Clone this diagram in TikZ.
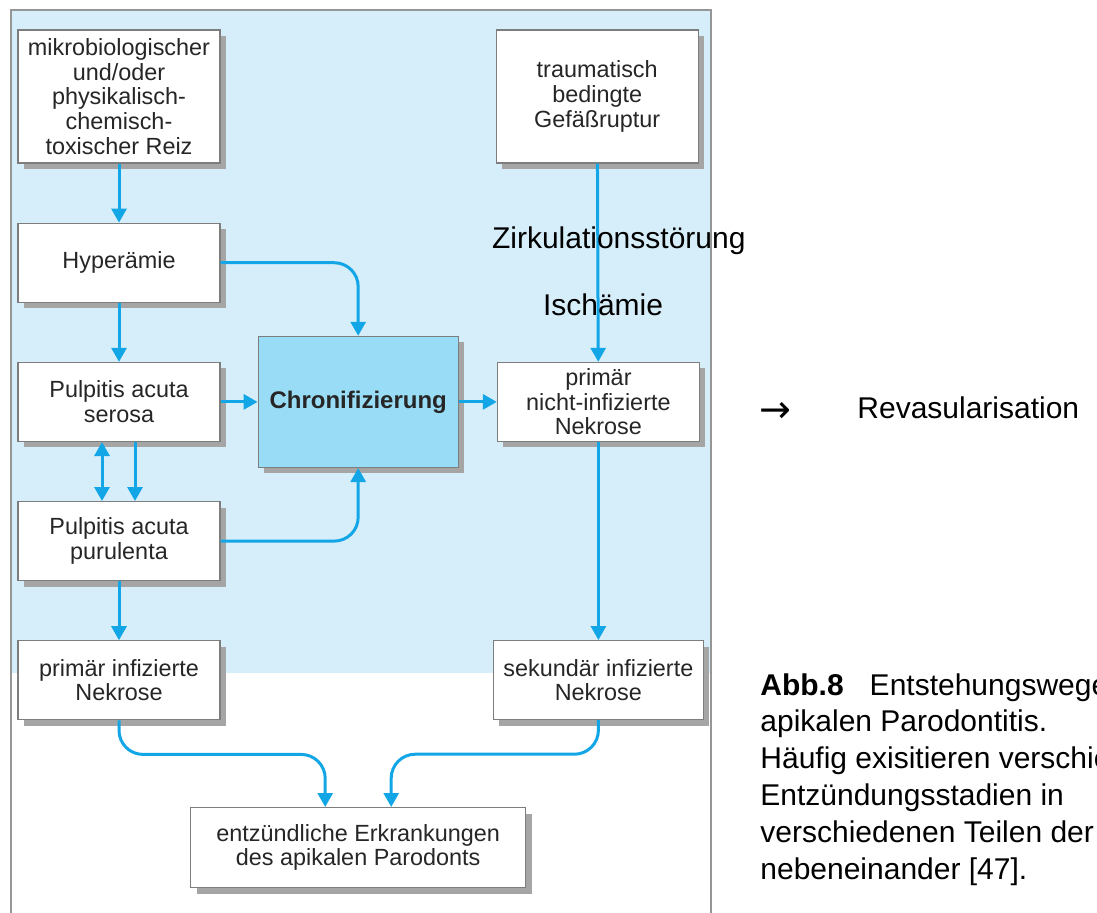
\documentclass[tikz,border=0pt]{standalone}
\usepackage{fontspec}
\setmainfont{Liberation Sans}
\newfontfamily\arrowfont{DejaVu Sans}
\usepackage{tikz}
\usetikzlibrary{positioning,arrows.meta,shadows}

\definecolor{bgblue}{RGB}{214,238,250}
\definecolor{chronblue}{RGB}{152,220,245}
\definecolor{arrowblue}{RGB}{18,166,230}
\definecolor{boxgray}{RGB}{125,125,125}
\definecolor{shadowgray}{RGB}{165,165,165}
\definecolor{framegray}{RGB}{150,150,150}

\begin{document}
\begin{tikzpicture}[
  box/.style = {draw=boxgray, fill=white, line width=0.6pt, minimum width=101pt, minimum height=39.5pt,
    inner sep=1pt, align=center, text=black!85, font=\fontsize{11.7}{12.3}\selectfont,
    general shadow={fill=shadowgray, shadow xshift=3pt, shadow yshift=-3pt}},
  tall/.style = {minimum height=66.5pt},
  arr/.style = {draw=arrowblue, line width=1.5pt, ->, rounded corners=12pt},
  lbl/.style = {font=\fontsize{15}{18}\selectfont, inner sep=0pt},
  >={Triangle[length=7pt,width=7.5pt]},
  node distance=29.5pt]
\useasboundingbox (0,0) rectangle (548.5pt,-456pt);
\fill[bgblue] (5pt,-5pt) rectangle (355pt,-336.5pt);
\draw[framegray, line width=0.8pt] (5.5pt,-460pt) -- (5.5pt,-5pt) -- (355.5pt,-5pt) -- (355.5pt,-460pt);

% left column
\node[box, tall] (mikro) at (59.5pt,-48.25pt) {mikrobiologischer\\ und/oder\\ physikalisch-\\ chemisch-\\ toxischer Reiz};
\node[box] (hyper) [below=of mikro] {Hyperämie};
\node[box] (serosa) [below=of hyper] {Pulpitis acuta\\ serosa};
\node[box] (purul) [below=of serosa] {Pulpitis acuta\\ purulenta};
\node[box] (prinf) [below=of purul] {primär infizierte\\ Nekrose};

% middle and right column
\node[box, fill=chronblue, minimum width=100pt, minimum height=65.5pt, font=\bfseries\fontsize{12}{14}\selectfont] (chron) [right=18.5pt of serosa] {Chronifizierung};
\node[box, tall] (trauma) [right=137.5pt of mikro] {traumatisch\\ bedingte\\ Gefäßruptur};
\node[box] (nichtinf) [right=19pt of chron] {primär\\ nicht-infizierte\\ Nekrose};
\node[box, minimum width=105pt] (sekinf) [below=99pt of nichtinf] {sekundär infizierte\\ Nekrose};
\node[box, minimum width=167.5pt, minimum height=40pt] (entz) [below=169.5pt of chron] {entzündliche Erkrankungen\\ des apikalen Parodonts};

% connectors
\draw[arr] (mikro) -- (hyper);
\draw[arr] (hyper) -- (serosa);
\draw[arr] (hyper.east) -| (chron.north);
\draw[arr] (serosa) -- (chron);
\draw[arr, <->] ([xshift=-8.5pt]serosa.south) -- ([xshift=-8.5pt]purul.north);
\draw[arr] ([xshift=8pt]serosa.south) -- ([xshift=8pt]purul.north);
\draw[arr] (purul.east) -| (chron.south);
\draw[arr] (purul) -- (prinf);
\draw[arr] (trauma) -- node[lbl, pos=0.39, xshift=10.5pt] {Zirkulationsstörung}
  node[lbl, pos=0.71, xshift=2.5pt] {Ischämie} (nichtinf);
\draw[arr] (chron) -- (nichtinf);
\draw[arr] (nichtinf) -- (sekinf);
\draw[arr] (prinf.south) -- ++(0,-17pt) -| ([xshift=-16.5pt]entz.north);
\draw[arr] (sekinf.south) -- ++(0,-17pt) -| ([xshift=16.5pt]entz.north);

% text beside the diagram
\node[lbl, font=\arrowfont\fontsize{19}{20}\selectfont] (pfeil) at (387.5pt,-206pt) {→};
\node[lbl, anchor=west] (revas) at (428.5pt,-204pt) {Revasularisation};
\node[lbl, anchor=north west, align=left, font=\fontsize{15}{18.4}\selectfont] (caption) at (380pt,-336.5pt)
  {\textbf{Abb.8}\hspace{13pt}Entstehungswege\\ apikalen Parodontitis.\\ Häufig exisitieren verschie\\
   Entzündungsstadien in\\ verschiedenen Teilen der\\ nebeneinander [47].};
\end{tikzpicture}
\end{document}
